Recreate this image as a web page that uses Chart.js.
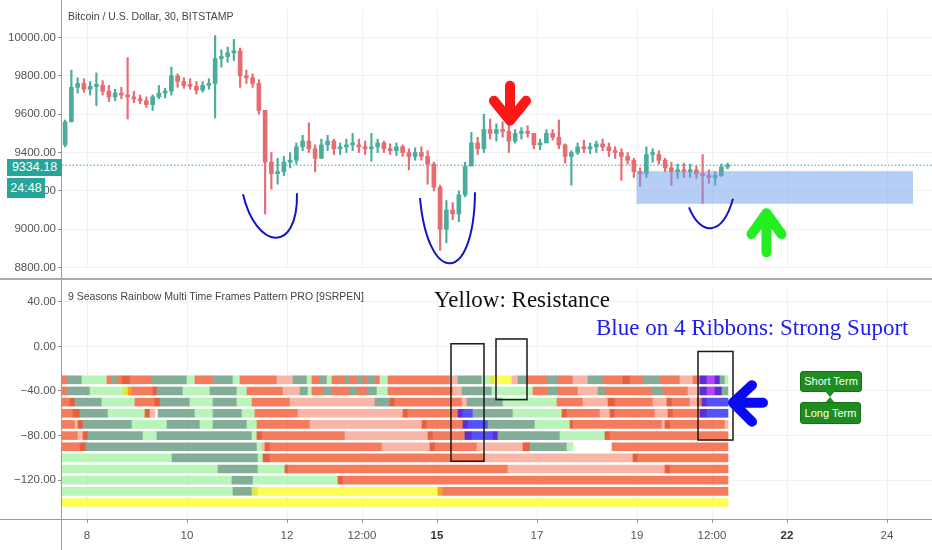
<!DOCTYPE html>
<html>
<head>
<meta charset="utf-8">
<script src="https://cdn.jsdelivr.net/npm/chart.js@4.4.1/dist/chart.umd.min.js"></script>
<style>
body { margin:0; background:#fff; width:932px; height:550px; overflow:hidden; position:relative; font-family:'Liberation Sans', Arial, sans-serif; }
canvas { position:absolute; left:0; }
#top { top:0; }
#bot { top:280px; }
.t { position:absolute; white-space:nowrap; }
.line { position:absolute; background:#9c9c9c; }
.tag { position:absolute; background:#26a69a; color:#fff; font-size:12.5px; text-align:center; }
.serif { position:absolute; white-space:nowrap; font-family:'Liberation Serif', 'DejaVu Serif', serif; font-size:23px; line-height:26px; }
.lab { position:absolute; background:#1f8c1f; border:1px solid #167016; border-radius:3px; color:#fff; font-size:11px; text-align:center; box-sizing:border-box; }
.tri { position:absolute; width:0; height:0; border-style:solid; }
</style>
</head>
<body>
<canvas id="top" width="932" height="278"></canvas>
<canvas id="bot" width="932" height="270"></canvas>

<div class="line" style="left:61px;top:0;width:1px;height:550px"></div>
<div class="line" style="left:0;top:278px;width:932px;height:2px;background:#aaa"></div>
<div class="line" style="left:0;top:519px;width:932px;height:1px"></div>

<div class="t" style="left:68px;top:10px;font-size:10.5px;color:#444">Bitcoin / U.S. Dollar, 30, BITSTAMP</div>
<div class="tag" id="lastTag" style="left:7px;top:159px;width:55px;height:17px;line-height:17px"></div>
<div class="tag" style="left:7px;top:178px;width:38px;height:20px;line-height:20px">24:48</div>

<div class="t" style="left:68px;top:290px;font-size:10.5px;color:#444">9 Seasons Rainbow Multi Time Frames Pattern PRO [9SRPEN]</div>
<div class="serif" style="left:434px;top:287px;color:#111">Yellow: Resistance</div>
<div class="serif" style="left:596px;top:315px;color:#1c1cee">Blue on 4 Ribbons: Strong Suport</div>

<div class="lab" style="left:800px;top:371px;width:62px;height:21px;line-height:19px">Short Term</div>
<div class="tri" style="left:825px;top:391px;border-width:6px 5px 0 5px;border-color:#1f8c1f transparent transparent transparent"></div>
<div class="tri" style="left:825px;top:397px;border-width:0 5px 6px 5px;border-color:transparent transparent #1f8c1f transparent"></div>
<div class="lab" style="left:800px;top:402px;width:61px;height:22px;line-height:20px">Long Term</div>

<script>
const FONT = "'Liberation Sans', Arial, sans-serif";

// x axis (day of month)
const tickDays = [8, 10, 12, 13.5, 15, 17, 19, 20.5, 22, 24];
const tickLabels = ['8', '10', '12', '12:00', '15', '17', '19', '12:00', '22', '24'];
const boldTicks = ['15', '22'];
const priceTicks = [8800, 9000, 9200, 9400, 9600, 9800, 10000];
const ribbonTicks = [40, 0, -40, -80, -120];

// BTC candles, 3h each, starting 7th 12:00
const candleStart = 7.5;
const candleStep = 0.125;
const firstOpen = 9440;
const highs = [9570, 9830, 9790, 9785, 9770, 9815, 9775, 9750, 9730, 9740,
  9895, 9720, 9700, 9690, 9700, 9750, 9735, 9845, 9810, 9790,
  9785, 9770, 9770, 9785, 10010, 9935, 9950, 9990, 9945, 9830,
  9810, 9780, 9620, 9400, 9370, 9380, 9400, 9450, 9490, 9555,
  9440, 9470, 9490, 9470, 9450, 9470, 9500, 9470, 9460, 9500,
  9470, 9460, 9445, 9450, 9440, 9420, 9425, 9430, 9410, 9350,
  9230, 9150, 9140, 9200, 9350, 9505, 9480, 9600, 9575, 9550,
  9560, 9600, 9520, 9530, 9540, 9500, 9470, 9520, 9520, 9570,
  9445, 9410, 9450, 9465, 9450, 9460, 9470, 9450, 9430, 9420,
  9400, 9370, 9320, 9430, 9420, 9410, 9370, 9350, 9340, 9345,
  9340, 9330, 9390, 9310, 9300, 9340, 9345];
const lows = [9430, 9560, 9710, 9715, 9700, 9645, 9700, 9665, 9670, 9680,
  9575, 9660, 9655, 9635, 9620, 9680, 9685, 9700, 9740, 9735,
  9730, 9705, 9715, 9730, 9580, 9845, 9870, 9880, 9740, 9760,
  9740, 9600, 9080, 9210, 9235, 9280, 9320, 9340, 9410, 9400,
  9300, 9370, 9410, 9390, 9390, 9400, 9410, 9400, 9390, 9355,
  9400, 9400, 9390, 9385, 9380, 9310, 9360, 9360, 9235, 9200,
  8890, 8930, 9050, 9040, 9170, 9330, 9390, 9400, 9470, 9460,
  9480, 9400, 9450, 9470, 9480, 9420, 9415, 9460, 9465, 9420,
  9345, 9230, 9390, 9400, 9395, 9400, 9410, 9380, 9370, 9255,
  9340, 9270, 9225, 9270, 9350, 9340, 9300, 9230, 9265, 9270,
  9270, 9265, 9135, 9240, 9230, 9275, 9315];
const closes = [9560, 9740, 9760, 9730, 9745, 9750, 9720, 9690, 9710, 9700,
  9690, 9680, 9670, 9650, 9690, 9710, 9720, 9800, 9770, 9750,
  9745, 9725, 9750, 9760, 9890, 9900, 9920, 9930, 9800, 9790,
  9760, 9620, 9350, 9290, 9300, 9350, 9360, 9430, 9460, 9420,
  9370, 9440, 9460, 9420, 9430, 9440, 9440, 9430, 9420, 9430,
  9450, 9420, 9410, 9430, 9400, 9380, 9400, 9380, 9340, 9220,
  9000, 9100, 9080, 9180, 9330, 9450, 9420, 9520, 9500, 9520,
  9510, 9460, 9500, 9510, 9500, 9440, 9450, 9500, 9480, 9440,
  9380, 9400, 9430, 9420, 9430, 9445, 9430, 9410, 9400, 9380,
  9360, 9300, 9290, 9390, 9390, 9360, 9320, 9300, 9310, 9300,
  9310, 9290, 9280, 9270, 9280, 9325, 9334.18];

// 9SRPEN ribbons: level, then [start day, state] runs up to ribbonEnd
const ribbonLevels = [-30, -40, -50, -60, -70, -80, -90, -100, -110, -120, -130, -140];
const ribbonEnd = 20.82;
const ribbonRows = [
  [[7.5,'R'],[7.60,'D'],[7.90,'G'],[8.40,'R'],[8.50,'D'],[8.60,'R'],[8.70,'K'],[8.86,'R'],[9.30,'D'],[10.00,'G'],[10.16,'R'],[10.52,'D'],[10.92,'G'],[11.06,'R'],[11.80,'S'],[12.12,'D'],[12.40,'G'],[12.50,'R'],[12.66,'D'],[12.80,'G'],[12.90,'R'],[13.16,'D'],[13.26,'R'],[13.40,'D'],[13.52,'R'],[13.60,'D'],[13.76,'R'],[13.86,'G'],[14.02,'R'],[15.26,'S'],[15.42,'D'],[15.90,'G'],[16.06,'L'],[16.16,'Y'],[16.50,'S'],[16.62,'D'],[16.80,'R'],[17.20,'D'],[17.42,'R'],[17.72,'S'],[18.02,'D'],[18.32,'R'],[18.72,'K'],[18.86,'R'],[19.12,'D'],[19.46,'R'],[19.86,'S'],[20.12,'R'],[20.26,'P'],[20.40,'V'],[20.56,'P'],[20.66,'D'],[20.76,'G']],
  [[7.5,'R'],[7.60,'D'],[8.06,'G'],[8.72,'L'],[8.82,'O'],[8.90,'R'],[9.32,'K'],[9.40,'D'],[9.92,'G'],[10.46,'D'],[11.00,'G'],[11.20,'R'],[11.92,'S'],[12.26,'D'],[12.42,'G'],[12.50,'R'],[12.72,'D'],[12.90,'R'],[13.26,'D'],[13.40,'R'],[13.60,'D'],[13.80,'G'],[14.02,'R'],[15.32,'S'],[15.50,'D'],[16.10,'G'],[16.92,'R'],[17.22,'D'],[17.42,'R'],[17.82,'S'],[18.22,'D'],[18.36,'R'],[19.30,'D'],[19.52,'R'],[20.02,'S'],[20.22,'R'],[20.26,'P'],[20.40,'V'],[20.56,'P'],[20.70,'D']],
  [[7.5,'R'],[7.66,'K'],[7.76,'D'],[8.30,'G'],[8.96,'R'],[9.36,'K'],[9.46,'D'],[10.06,'G'],[10.52,'D'],[11.00,'G'],[11.30,'R'],[12.06,'S'],[13.76,'D'],[14.06,'K'],[14.16,'R'],[15.50,'S'],[15.60,'D'],[16.32,'G'],[17.40,'R'],[17.92,'S'],[18.42,'K'],[18.56,'R'],[19.32,'S'],[19.60,'K'],[19.70,'R'],[20.06,'S'],[20.20,'R'],[20.30,'P'],[20.40,'B']],
  [[7.5,'R'],[7.72,'K'],[7.86,'D'],[8.42,'G'],[9.16,'K'],[9.26,'S'],[9.36,'W'],[9.42,'D'],[10.16,'G'],[10.52,'D'],[11.10,'G'],[11.36,'R'],[12.22,'S'],[14.32,'K'],[14.42,'R'],[15.42,'P'],[15.52,'B'],[15.72,'D'],[16.52,'G'],[17.50,'K'],[17.60,'R'],[18.26,'S'],[18.46,'K'],[18.56,'R'],[19.36,'S'],[19.62,'K'],[19.72,'R'],[20.26,'P'],[20.40,'B']],
  [[7.5,'R'],[7.76,'S'],[7.82,'K'],[7.92,'D'],[8.90,'G'],[9.60,'D'],[10.26,'G'],[10.52,'D'],[11.20,'G'],[11.40,'R'],[12.46,'S'],[14.70,'K'],[14.80,'R'],[15.52,'P'],[15.62,'B'],[16.02,'D'],[16.96,'G'],[17.66,'K'],[17.72,'R'],[19.50,'S'],[19.56,'K'],[19.66,'R'],[20.76,'S']],
  [[7.5,'R'],[7.82,'S'],[7.92,'K'],[8.02,'D'],[9.12,'G'],[9.40,'D'],[11.30,'G'],[11.40,'K'],[11.50,'R'],[13.16,'S'],[14.82,'K'],[14.92,'R'],[15.56,'P'],[15.70,'B'],[16.12,'P'],[16.22,'D'],[17.46,'G'],[18.36,'K'],[18.46,'R']],
  [[7.5,'R'],[7.86,'K'],[7.98,'D'],[11.40,'G'],[11.50,'S'],[11.56,'K'],[11.66,'R'],[13.90,'S'],[14.86,'K'],[14.96,'R'],[15.80,'S'],[15.92,'W'],[15.96,'S'],[16.72,'K'],[16.86,'D'],[17.60,'G'],[17.72,'W'],[18.50,'R']],
  [[7.5,'G'],[9.70,'D'],[11.42,'G'],[11.52,'K'],[11.66,'R'],[15.96,'S'],[18.92,'K'],[19.02,'R']],
  [[7.5,'G'],[10.62,'D'],[11.42,'G'],[11.96,'K'],[12.02,'R'],[16.42,'S'],[19.56,'K'],[19.66,'R']],
  [[7.5,'G'],[10.90,'D'],[11.32,'G'],[13.02,'K'],[13.12,'R']],
  [[7.5,'G'],[10.92,'D'],[11.30,'L'],[11.42,'Y'],[15.02,'O'],[15.12,'R']],
  [[7.5,'Y']]
];
const ribbonColors = { G:'#b9f5b9', D:'#84ad98', R:'#f57b5d', S:'#f9b6a6', K:'#e4603f',
  Y:'#fdfd55', L:'#d8ec4a', O:'#ffa024', P:'#5b2fd4', V:'#b347f2', B:'#5252f7' };

// drawings (day, value)
const curves = [
  [[11.12, 9183], [11.38, 8895], [12.22, 8865], [12.20, 9188]],
  [[14.66, 9163], [14.82, 8705], [15.74, 8705], [15.76, 9193]],
  [[20.04, 9115], [20.26, 8970], [20.70, 8955], [20.92, 9159]]
];
const supportZone = [18.99, 24.52, 9133, 9303];
const redArrow = [[16.46, 9748], [16.46, 9566], [16.14, 9670], [16.78, 9670]];
const greenArrow = [[21.59, 8880], [21.59, 9084], [21.29, 8975], [21.89, 8975]];
const blueArrow = [[21.52, -50.6], [20.92, -50.6], [21.30, -34.8], [21.30, -67.6]];
const boxes = [[15.28, 15.94, -103, 2.3], [16.18, 16.80, -47.8, 6.6], [20.22, 20.92, -84, -4.6]];

const lastClose = closes[closes.length - 1];
document.getElementById('lastTag').textContent = lastClose.toFixed(2);

function xScale(showLabels) {
  return {
    type: 'linear', min: 7.5, max: 24.9, offset: false,
    afterBuildTicks: s => { s.ticks = tickDays.map(v => ({ value: v })); },
    afterFit: s => { s.height = showLabels ? 31 : 0; },
    grid: { color: '#eff1f5', offset: false, drawTicks: showLabels, tickLength: 4, tickColor: '#9a9a9a' },
    border: { display: false },
    ticks: {
      display: showLabels, autoSkip: false, maxRotation: 0, padding: 6,
      color: c => boldTicks.includes(tickLabels[c.index]) ? '#333' : '#555',
      font: c => ({ family: FONT, size: 11.5, weight: boldTicks.includes(tickLabels[c.index]) ? 'bold' : 'normal' }),
      callback: (v, i) => tickLabels[i]
    }
  };
}

function yScale(min, max, ticks) {
  return {
    type: 'linear', position: 'left', min: min, max: max, offset: false,
    afterBuildTicks: s => { s.ticks = ticks.map(v => ({ value: v })); },
    afterFit: s => { s.width = 62; },
    grid: { color: '#eff1f5', offset: false, tickLength: 4, tickColor: '#8a8a8a' },
    border: { display: false },
    ticks: { color: '#555', padding: 2, font: { family: FONT, size: 11.5 },
      callback: v => (v < 0 ? '\u2212' + Math.abs(v).toFixed(2) : v.toFixed(2)) }
  };
}

function arrow(ctx, x, y, pts, color, width) {
  const p = pts.map(q => [x.getPixelForValue(q[0]), y.getPixelForValue(q[1])]);
  ctx.save();
  ctx.strokeStyle = color;
  ctx.lineWidth = width;
  ctx.lineCap = 'round';
  ctx.lineJoin = 'round';
  ctx.beginPath();
  ctx.moveTo(p[0][0], p[0][1]); ctx.lineTo(p[1][0], p[1][1]);
  ctx.moveTo(p[2][0], p[2][1]); ctx.lineTo(p[1][0], p[1][1]); ctx.lineTo(p[3][0], p[3][1]);
  ctx.stroke();
  ctx.restore();
}

// candles
const times = closes.map((c, i) => candleStart + (i + 0.5) * candleStep);
const opens = closes.map((c, i) => (i === 0 ? firstOpen : closes[i - 1]));
const candleColors = closes.map((c, i) => (c >= opens[i] ? '#4aad9b' : '#e56c71'));

const priceNotes = {
  id: 'priceNotes',
  beforeDatasetsDraw(chart) {
    const { ctx, chartArea, scales } = chart;
    const py = scales.y.getPixelForValue(lastClose);
    ctx.save();
    ctx.strokeStyle = '#26a69a';
    ctx.lineWidth = 1;
    ctx.setLineDash([1.5, 2]);
    ctx.beginPath();
    ctx.moveTo(chartArea.left, py);
    ctx.lineTo(chartArea.right, py);
    ctx.stroke();
    ctx.restore();
  },
  afterDatasetsDraw(chart) {
    const { ctx, scales } = chart;
    const x = scales.x, y = scales.y;
    ctx.save();
    ctx.fillStyle = 'rgba(110, 155, 235, 0.5)';
    const l = x.getPixelForValue(supportZone[0]), r = x.getPixelForValue(supportZone[1]);
    const b = y.getPixelForValue(supportZone[2]), t = y.getPixelForValue(supportZone[3]);
    ctx.fillRect(l, t, r - l, b - t);
    ctx.strokeStyle = '#1515c8';
    ctx.lineWidth = 2;
    curves.forEach(c => {
      const p = c.map(q => [x.getPixelForValue(q[0]), y.getPixelForValue(q[1])]);
      ctx.beginPath();
      ctx.moveTo(p[0][0], p[0][1]);
      ctx.bezierCurveTo(p[1][0], p[1][1], p[2][0], p[2][1], p[3][0], p[3][1]);
      ctx.stroke();
    });
    ctx.restore();
    arrow(ctx, x, y, redArrow, '#ff1616', 10);
    arrow(ctx, x, y, greenArrow, '#22ee22', 10);
  }
};

new Chart(document.getElementById('top'), {
  type: 'bar',
  data: {
    datasets: [
      { data: times.map((t, i) => ({ x: t, y: [lows[i], highs[i]] })), backgroundColor: candleColors,
        barThickness: 1.5, grouped: false, order: 2 },
      { data: times.map((t, i) => ({ x: t, y: [opens[i], closes[i]] })), backgroundColor: candleColors,
        barThickness: 4, minBarLength: 2, grouped: false, order: 1 }
    ]
  },
  options: {
    responsive: false, animation: false,
    layout: { padding: 0 },
    plugins: { legend: { display: false }, tooltip: { enabled: false } },
    scales: { x: xScale(false), y: yScale(8792.7, 10148.8, priceTicks) }
  },
  plugins: [priceNotes]
});

// ribbons
const ribbonData = [], ribbonFill = [];
ribbonRows.forEach((row, r) => {
  row.forEach((seg, k) => {
    const end = k + 1 < row.length ? row[k + 1][0] : ribbonEnd;
    if (seg[1] === 'W') return;
    ribbonData.push({ y: ribbonLevels[r], x: [seg[0], end] });
    ribbonFill.push(ribbonColors[seg[1]]);
  });
});

const ribbonNotes = {
  id: 'ribbonNotes',
  afterDatasetsDraw(chart) {
    const { ctx, scales } = chart;
    const x = scales.x, y = scales.y;
    ctx.save();
    ctx.strokeStyle = '#1a1a1a';
    ctx.lineWidth = 1.5;
    boxes.forEach(bx => {
      const l = x.getPixelForValue(bx[0]), r = x.getPixelForValue(bx[1]);
      const b = y.getPixelForValue(bx[2]), t = y.getPixelForValue(bx[3]);
      ctx.strokeRect(l, t, r - l, b - t);
    });
    ctx.restore();
    arrow(ctx, x, y, blueArrow, '#0a0af0', 10);
  }
};

new Chart(document.getElementById('bot'), {
  type: 'bar',
  data: {
    datasets: [{ data: ribbonData, backgroundColor: ribbonFill, barThickness: 8, borderWidth: 0, grouped: false }]
  },
  options: {
    indexAxis: 'y',
    responsive: false, animation: false,
    layout: { padding: 0 },
    plugins: { legend: { display: false }, tooltip: { enabled: false } },
    scales: { x: xScale(true), y: yScale(-154.8, 51.5, ribbonTicks) }
  },
  plugins: [ribbonNotes]
});
</script>
</body>
</html>
